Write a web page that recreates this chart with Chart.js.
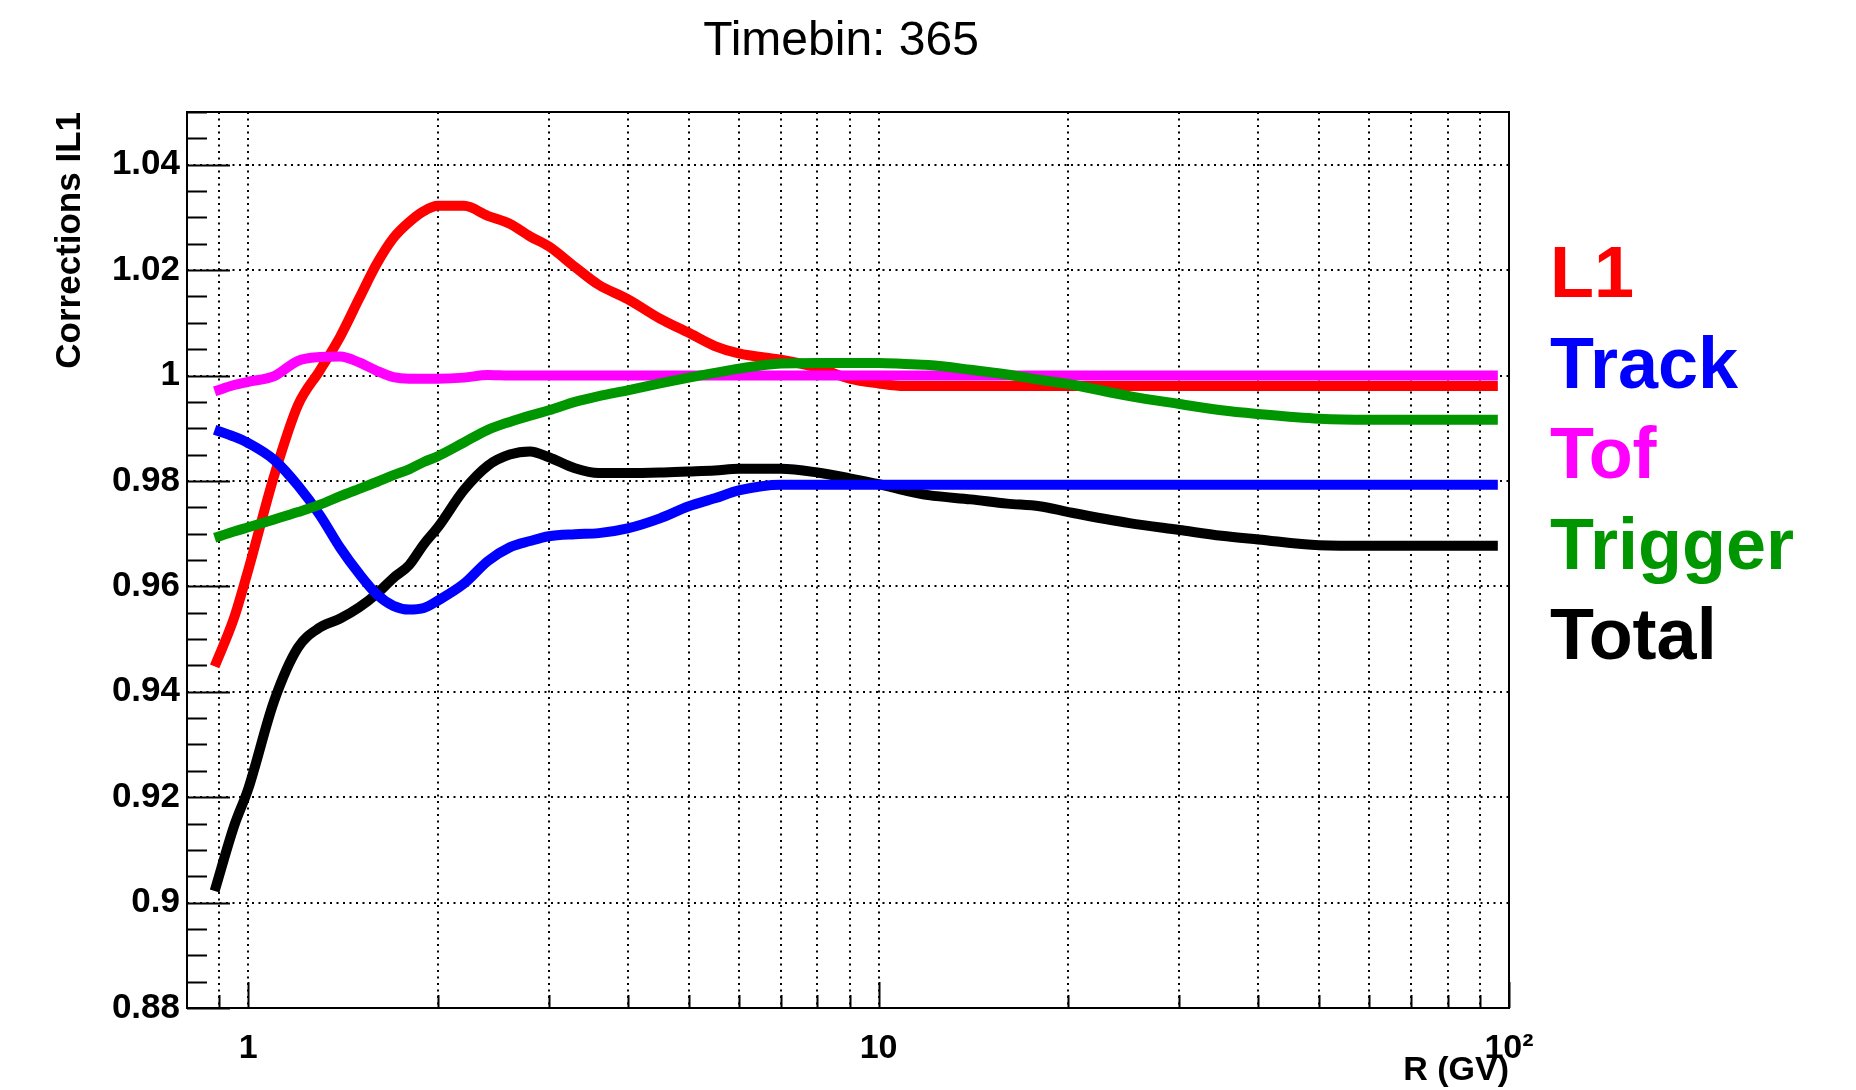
<!DOCTYPE html>
<html>
<head>
<meta charset="utf-8">
<title>Timebin: 365</title>
<script src="https://cdn.jsdelivr.net/npm/chart.js@4.4.1/dist/chart.umd.min.js"></script>
<style>
  html, body { margin: 0; padding: 0; background: #fff; }
  #wrap { width: 1856px; height: 1090px; }
</style>
</head>
<body>
<div id="wrap"><canvas id="chart" width="1856" height="1090"></canvas></div>
<script>
// R (GV) bins, shared by every curve
const rigidity = [0.885, 0.95, 1.0, 1.1, 1.2, 1.3, 1.4, 1.5, 1.6, 1.7, 1.8, 1.9, 2.0, 2.2, 2.4, 2.6, 2.8, 3.0, 3.3, 3.6,
  4.0, 4.5, 5, 5.5, 6, 7, 8, 9, 10, 11, 12, 14, 16, 18, 20, 25, 30, 35, 40, 50, 60, 70, 80, 96];

const l1 = [0.9448, 0.954, 0.963, 0.981, 0.9944, 1.001, 1.0074, 1.0146, 1.0212, 1.0261, 1.0291, 1.0312, 1.0322, 1.0322,
  1.0303, 1.0288, 1.0264, 1.0245, 1.0206, 1.0172, 1.0145, 1.0108, 1.0081, 1.0056, 1.0042, 1.003, 1.0015, 0.9994, 0.9985,
  0.998, 0.998, 0.998, 0.998, 0.998, 0.998, 0.998, 0.998, 0.998, 0.998, 0.998, 0.998, 0.998, 0.998, 0.998];

const track = [0.9897, 0.9884, 0.9872, 0.984, 0.9791, 0.9735, 0.9673, 0.9624, 0.9585, 0.9563, 0.9556, 0.9559, 0.9573,
  0.9605, 0.9648, 0.9674, 0.9686, 0.9695, 0.9699, 0.9701, 0.971, 0.9729, 0.9752, 0.9767, 0.9782, 0.9793, 0.9793, 0.9793,
  0.9793, 0.9793, 0.9793, 0.9793, 0.9793, 0.9793, 0.9793, 0.9793, 0.9793, 0.9793, 0.9793, 0.9793, 0.9793, 0.9793, 0.9793, 0.9793];

const tof = [0.997, 0.9982, 0.9988, 0.9999, 1.0028, 1.0035, 1.0036, 1.0025, 1.0009, 0.9997, 0.9994, 0.9994, 0.9994,
  0.9996, 1.0001, 1.0, 1.0, 1.0, 1.0, 1.0, 1.0, 1.0, 1.0, 1.0, 1.0, 1.0, 1.0, 1.0, 1.0, 1.0, 1.0, 1.0, 1.0, 1.0, 1.0,
  1.0, 1.0, 1.0, 1.0, 1.0, 1.0, 1.0, 1.0, 1.0];

const trigger = [0.9692, 0.9704, 0.9712, 0.9727, 0.9741, 0.9755, 0.9771, 0.9785, 0.9798, 0.9811, 0.9822, 0.9836, 0.9847,
  0.9873, 0.9897, 0.9912, 0.9924, 0.9934, 0.995, 0.9961, 0.9972, 0.9985, 0.9996, 1.0005, 1.0013, 1.0023, 1.0024, 1.0024,
  1.0024, 1.0022, 1.002, 1.0011, 1.0002, 0.9992, 0.9984, 0.9961, 0.9946, 0.9934, 0.9927, 0.9918, 0.9916, 0.9916, 0.9916, 0.9916];

const total = [0.9022, 0.9145, 0.9215, 0.9383, 0.9484, 0.9522, 0.9539, 0.956, 0.9586, 0.9616, 0.964, 0.968, 0.9712,
  0.9783, 0.9829, 0.985, 0.9856, 0.9845, 0.9824, 0.9815, 0.9815, 0.9816, 0.9818, 0.982, 0.9823, 0.9823, 0.9816, 0.9805,
  0.9794, 0.9782, 0.9773, 0.9765, 0.9757, 0.9752, 0.9741, 0.972, 0.9707, 0.9696, 0.9689, 0.9678, 0.9677, 0.9677, 0.9677, 0.9677];

const seriesNames = ["L1", "Track", "Tof", "Trigger", "Total"];
const seriesColors = ["#FF0000", "#0000FF", "#FF00FF", "#009600", "#000000"];
const seriesData = [l1, track, tof, trigger, total];
const drawOrder = [3, 2, 1, 0, 4]; // Total underneath, Trigger on top

// axes
const xGridValues = [0.9, 1, 2, 3, 4, 5, 6, 7, 8, 9, 10, 20, 30, 40, 50, 60, 70, 80, 90, 100];
const xLabelValues = [1, 10, 100];
const xLabelTexts = ["1", "10", "10\u00B2"];
const yTickValues = [0.88, 0.9, 0.92, 0.94, 0.96, 0.98, 1.0, 1.02, 1.04];

const FONT = "'Liberation Sans', Arial, Helvetica, sans-serif";

// ROOT style frame + inward tick marks
const rootFrame = {
  id: "rootFrame",
  beforeDatasetsDraw(chart) {
    const { ctx, chartArea: a, scales: { x, y } } = chart;
    ctx.save();
    ctx.strokeStyle = "#000";
    ctx.lineWidth = 2;
    ctx.beginPath();
    // y ticks: major every 0.02, minor every 0.005
    for (let i = 0; i <= 34; i++) {
      const v = 0.88 + i * 0.005;
      const py = Math.round(y.getPixelForValue(v)) + 0.5;
      if (py < a.top - 1) continue;
      const len = i % 4 === 0 ? 43 : 20;
      ctx.moveTo(a.left, py);
      ctx.lineTo(a.left + len, py);
    }
    // x ticks
    xGridValues.forEach((v) => {
      const px = Math.round(x.getPixelForValue(v)) + 0.5;
      const len = xLabelValues.includes(v) ? 26 : 13;
      ctx.moveTo(px, a.bottom);
      ctx.lineTo(px, a.bottom - len);
    });
    ctx.stroke();
    ctx.restore();
  },
  afterDraw(chart) {
    const { ctx, chartArea: a } = chart;
    ctx.save();
    ctx.strokeStyle = "#000";
    ctx.lineWidth = 2;
    ctx.strokeRect(a.left, a.top, a.right - a.left, a.bottom - a.top);

    ctx.fillStyle = "#000";
    // title
    ctx.font = "48px " + FONT;
    ctx.textAlign = "center";
    ctx.textBaseline = "alphabetic";
    ctx.fillText("Timebin: 365", 841, 55);

    // x title
    ctx.font = "bold 34px " + FONT;
    ctx.textAlign = "right";
    ctx.fillText("R (GV)", a.right, 1080);

    // y title (rotated, aligned to top of axis)
    ctx.save();
    ctx.translate(80, a.top);
    ctx.rotate(-Math.PI / 2);
    ctx.font = "bold 35px " + FONT;
    ctx.textAlign = "right";
    ctx.fillText("Corrections IL1", 0, 0);
    ctx.restore();

    // legend
    ctx.font = "bold 72px " + FONT;
    ctx.textAlign = "left";
    chart.data.datasets.forEach((ds, i) => {
      ctx.fillStyle = ds.borderColor;
      ctx.fillText(ds.label, 1550, 297 + i * 90.6);
    });
    ctx.restore();
  }
};

const datasets = seriesNames.map((name, i) => ({
  label: name,
  data: rigidity.map((r, j) => ({ x: r, y: seriesData[i][j] })),
  borderColor: seriesColors[i],
  backgroundColor: seriesColors[i],
  borderWidth: 10,
  pointRadius: 0,
  fill: false,
  cubicInterpolationMode: "monotone",
  borderJoinStyle: "round",
  order: drawOrder[i]
}));

new Chart(document.getElementById("chart"), {
  type: "line",
  data: { datasets },
  options: {
    responsive: false,
    animation: false,
    layout: { padding: { left: 0, right: 347, top: 112, bottom: 0 } },
    plugins: {
      legend: { display: false },
      title: { display: false },
      tooltip: { enabled: false }
    },
    scales: {
      x: {
        type: "logarithmic",
        min: 0.8,
        max: 100,
        afterBuildTicks: (scale) => { scale.ticks = xGridValues.map((v) => ({ value: v })); },
        afterFit: (scale) => { scale.height = 82; },
        grid: { color: "#000", lineWidth: 2, drawTicks: false },
        border: { display: false, dash: [2, 4.5] },
        ticks: {
          autoSkip: false,
          maxRotation: 0,
          minRotation: 0,
          padding: 20,
          color: "#000",
          font: { family: FONT, size: 34, weight: "bold" },
          callback: (v) => {
            const k = xLabelValues.indexOf(v);
            return k >= 0 ? xLabelTexts[k] : "";
          }
        }
      },
      y: {
        type: "linear",
        min: 0.88,
        max: 1.05,
        afterBuildTicks: (scale) => { scale.ticks = yTickValues.map((v) => ({ value: v })); },
        afterFit: (scale) => { scale.width = 187; },
        grid: { color: "#000", lineWidth: 2, drawTicks: false },
        border: { display: false, dash: [2, 4.5] },
        ticks: {
          padding: 7,
          color: "#000",
          font: { family: FONT, size: 35, weight: "bold" },
          callback: (v) => String(+v.toFixed(2))
        }
      }
    }
  },
  plugins: [rootFrame]
});
</script>
</body>
</html>
